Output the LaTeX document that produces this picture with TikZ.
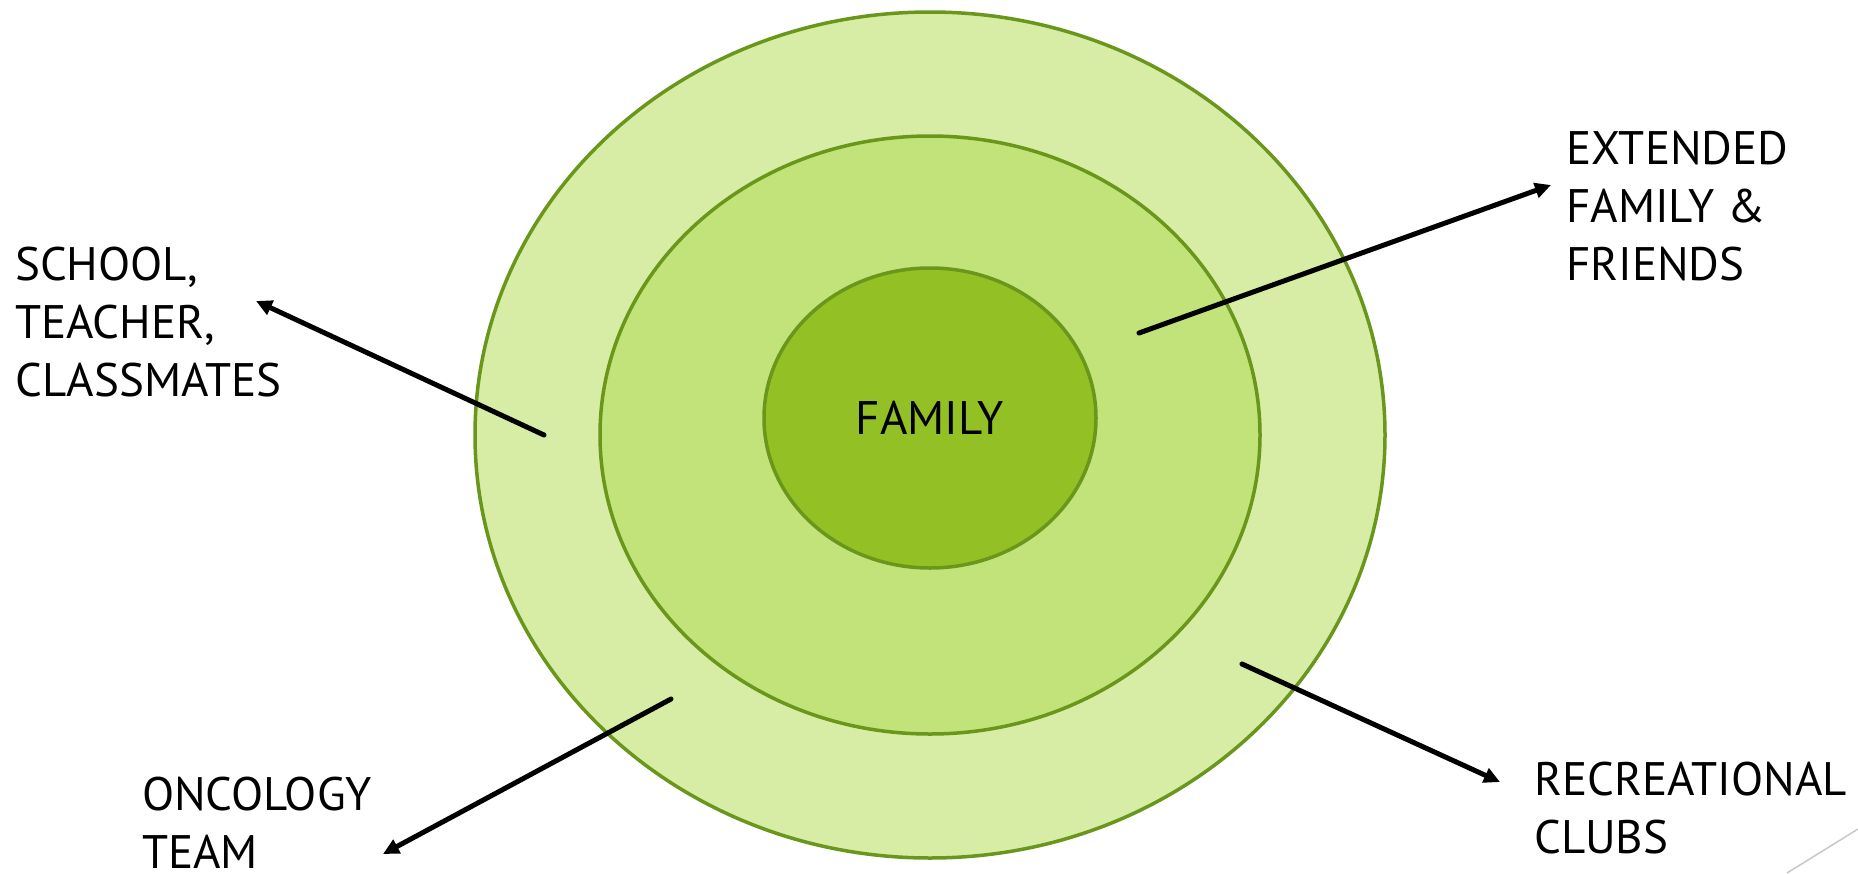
\documentclass[tikz,border=0pt]{standalone}
\usepackage{fontspec}
\setmainfont{PT Sans}
\usetikzlibrary{shapes.geometric, arrows.meta, positioning}
\definecolor{Outer}{HTML}{D7EDA5}
\definecolor{Middle}{HTML}{C1E37A}
\definecolor{Inner}{HTML}{93C125}
\definecolor{Rim}{HTML}{6A961C}
\definecolor{Corner}{HTML}{C8C8C8}

\begin{document}
\begin{tikzpicture}[x=1pt, y=-1pt,
    ring/.style={ellipse, draw=Rim, line width=3.5pt, inner sep=0pt},
    lbl/.style={anchor=north west, inner sep=0pt, align=left, font=\fontsize{47}{58}\selectfont, text=black},
    arrow/.style={-{Triangle[length=16pt, width=15pt]}, line width=5pt, line cap=round, color=black}
]
    \useasboundingbox (0,0) rectangle (1858,873);

    % Circles of support
    \node[ring, fill=Outer, minimum width=910pt, minimum height=846pt] (outer) at (930,435) {};
    \node[ring, fill=Middle, minimum width=660pt, minimum height=598pt] (middle) at (930,435) {};
    \node[ring, fill=Inner, minimum width=332pt, minimum height=300pt, font=\fontsize{47}{58}\selectfont] (family) at (930,418) {FAMILY};

    % Outer labels
    \node[lbl] (school) at (15,247) {SCHOOL,\\TEACHER,\\CLASSMATES};
    \node[lbl] (extended) at (1566,131) {EXTENDED\\FAMILY \&\\FRIENDS};
    \node[lbl] (recreational) at (1534,762) {RECREATIONAL\\CLUBS};
    \node[lbl] (oncology) at (142,777) {ONCOLOGY\\TEAM};

    % Arrow ends
    \coordinate (schoolFrom) at (544,435);
    \coordinate (schoolTo) at (256,301);
    \coordinate (extendedFrom) at (1139,333);
    \coordinate (extendedTo) at (1551,185);
    \coordinate (recFrom) at (1242,664);
    \coordinate (recTo) at (1500,782);
    \coordinate (oncFrom) at (671,699);
    \coordinate (oncTo) at (383,854);

    \draw[arrow] (schoolFrom) -- (schoolTo);
    \draw[arrow] (extendedFrom) -- (extendedTo);
    \draw[arrow] (recFrom) -- (recTo);
    \draw[arrow] (oncFrom) -- (oncTo);

    % Slide corner mark
    \coordinate (cornerA) at (1787,873);
    \coordinate (cornerB) at (1858,829);
    \draw[Corner, line width=1.5pt] (cornerA) -- (cornerB);
\end{tikzpicture}
\end{document}
